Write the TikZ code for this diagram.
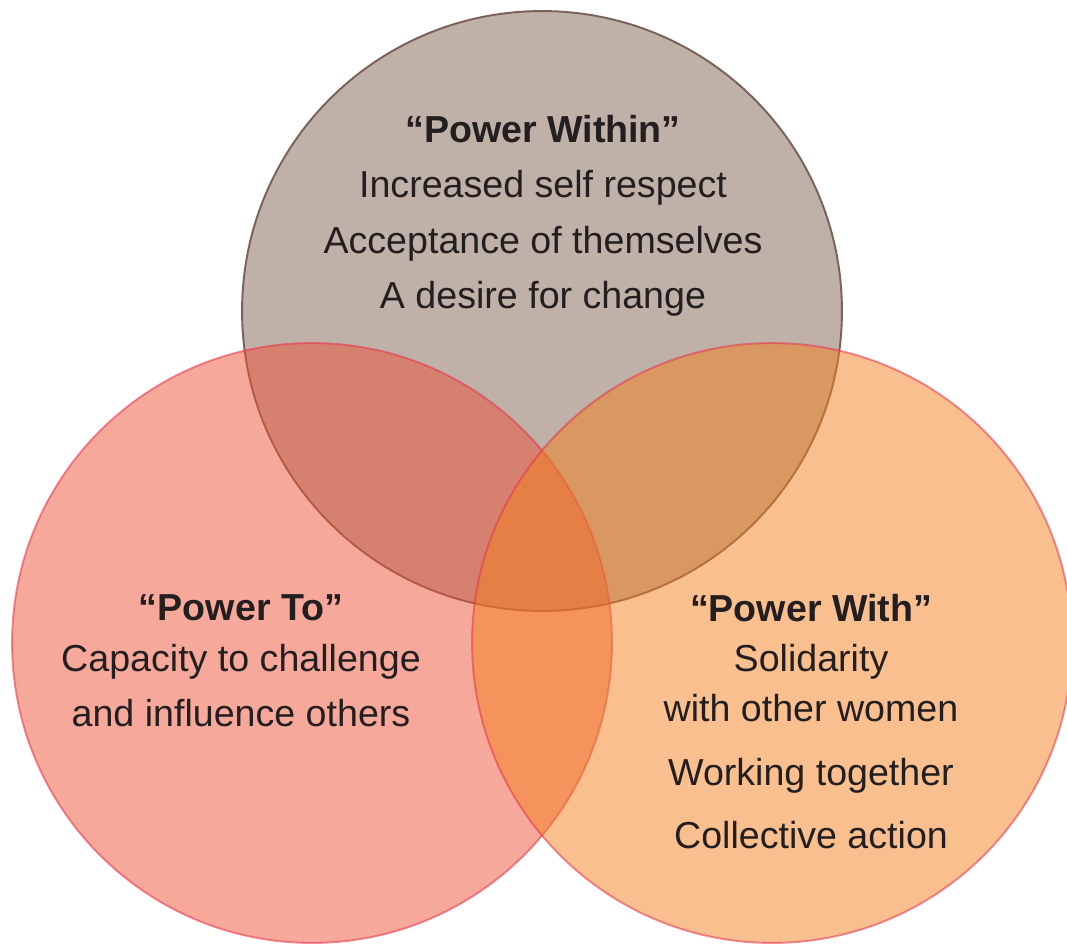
\documentclass[tikz,border=0pt]{standalone}
\usepackage{fontspec}
\setmainfont{Liberation Sans}
\usetikzlibrary{positioning}
\definecolor{withinfill}{RGB}{191,176,168}
\definecolor{withinline}{RGB}{122,98,89}
\definecolor{tofill}{RGB}{237,83,55}
\definecolor{withfill}{RGB}{243,127,29}
\definecolor{ringline}{RGB}{232,50,75}
\definecolor{inktext}{RGB}{35,31,32}
\tikzset{
    powercircle/.style={
        circle,minimum size=12cm,inner sep=0pt,line width=1.1pt
    },
    sharecircle/.style={
        powercircle,fill opacity=.5,draw=ringline,draw opacity=.55
    },
    titletext/.style={
        font=\fontsize{21.4}{25}\selectfont\bfseries,text=inktext,anchor=base
    },
    linetext/.style={
        font=\fontsize{21.4}{25}\selectfont,text=inktext,anchor=base
    }
}

\begin{document}
\begin{tikzpicture}[x=0.02cm,y=-0.02cm]
\useasboundingbox (0,0) rectangle (1067,943);
\node[powercircle,draw=withinline,fill=withinfill] (within) at (542,311) {};
\node[sharecircle,fill=tofill] (to) at (312,643) {};
\node[sharecircle,fill=withfill] (with) at (772,643) {};

\node[titletext] (withinhead) at (543,142) {``Power Within''};
\node[linetext] (within1) at (543,197) {Increased self respect};
\node[linetext] (within2) at (543,253) {Acceptance of themselves};
\node[linetext] (within3) at (543,308) {A desire for change};

\node[titletext] (tohead) at (241,620) {``Power To''};
\node[linetext] (to1) at (241,671) {Capacity to challenge};
\node[linetext] (to2) at (241,726) {and influence others};

\node[titletext] (withhead) at (811,621) {``Power With''};
\node[linetext] (with1) at (811,671) {Solidarity};
\node[linetext] (with2) at (811,721) {with other women};
\node[linetext] (with3) at (811,785) {Working together};
\node[linetext] (with4) at (811,848) {Collective action};
\end{tikzpicture}
\end{document}
